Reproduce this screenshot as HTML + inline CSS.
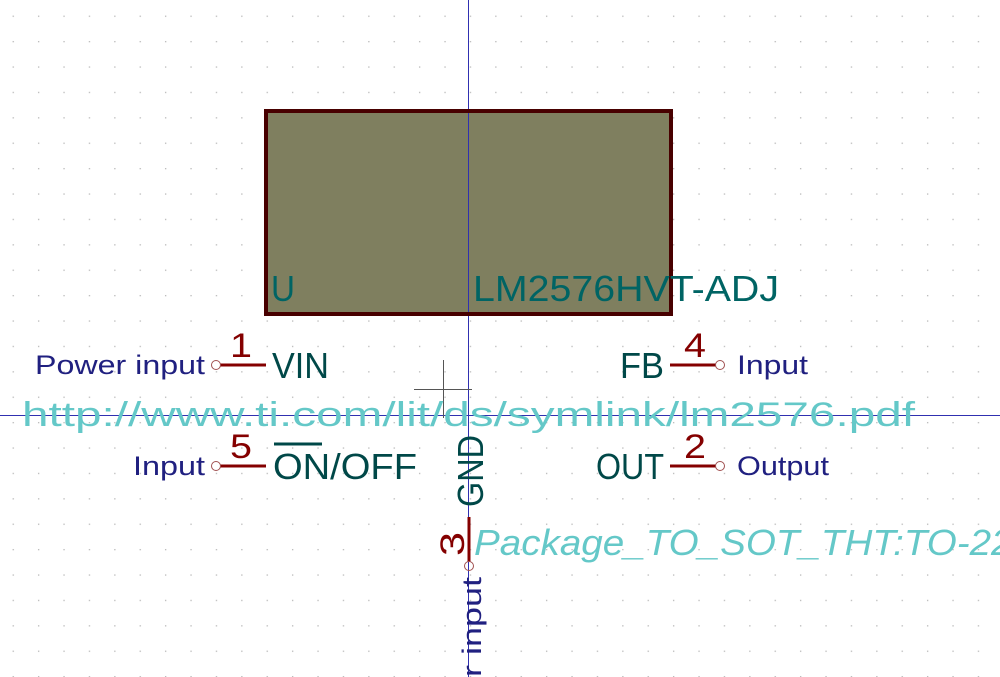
<!DOCTYPE html>
<html><head><meta charset="utf-8"><style>
html,body{margin:0;padding:0;background:#fff;}
svg{display:block;}
text{font-family:"Liberation Sans","DejaVu Sans",sans-serif;}
</style></head><body>
<svg width="1000" height="677" viewBox="0 0 1000 677" xmlns="http://www.w3.org/2000/svg">
<defs>
<pattern id="g" x="4.6" y="9.6" width="25.4" height="25.4" patternUnits="userSpaceOnUse">
<rect x="8" y="6" width="1.3" height="1.3" fill="#b8b8b8"/>
</pattern>
</defs>
<rect width="1000" height="677" fill="#fff"/>
<rect width="1000" height="677" fill="url(#g)"/>
<!-- axes -->
<line x1="468.5" y1="0" x2="468.5" y2="677" stroke="#3030b0" stroke-width="1"/>
<line x1="0" y1="415.5" x2="1000" y2="415.5" stroke="#3030b0" stroke-width="1"/>
<!-- box -->
<rect x="266" y="111" width="405" height="203" fill="#7f7f5f" stroke="#480000" stroke-width="4"/>
<line x1="468.5" y1="113" x2="468.5" y2="312" stroke="#3030b0" stroke-width="1"/>
<text x="271" y="301" font-size="36" fill="#006464" textLength="24" lengthAdjust="spacingAndGlyphs">U</text>
<text x="473" y="301" font-size="36" fill="#006464" textLength="306" lengthAdjust="spacingAndGlyphs">LM2576HVT-ADJ</text>
<!-- crosshair -->
<line x1="414" y1="389.5" x2="472" y2="389.5" stroke="#555" stroke-width="1"/>
<line x1="443.5" y1="360" x2="443.5" y2="418" stroke="#555" stroke-width="1"/>
<!-- pins -->
<g stroke="#840000" stroke-width="3">
<line x1="220" y1="365" x2="266" y2="365"/>
<line x1="220" y1="466" x2="266" y2="466"/>
<line x1="670" y1="365" x2="716" y2="365"/>
<line x1="670" y1="466" x2="716" y2="466"/>
<line x1="469" y1="517" x2="469" y2="562"/>
</g>
<g fill="none" stroke="#a05050" stroke-width="1">
<circle cx="216" cy="365" r="4.5"/>
<circle cx="216" cy="466" r="4.5"/>
<circle cx="720" cy="365" r="4.5"/>
<circle cx="720" cy="466" r="4.5"/>
<circle cx="469" cy="566" r="4.5"/>
</g>
<g fill="#840000" font-size="34">
<text x="230" y="357" textLength="22" lengthAdjust="spacingAndGlyphs">1</text>
<text x="230" y="458" textLength="22" lengthAdjust="spacingAndGlyphs">5</text>
<text x="684" y="357" textLength="22" lengthAdjust="spacingAndGlyphs">4</text>
<text x="684" y="458" textLength="22" lengthAdjust="spacingAndGlyphs">2</text>
<text transform="translate(464,556) rotate(-90)" textLength="24" lengthAdjust="spacingAndGlyphs">3</text>
</g>
<g fill="#004848" font-size="36">
<text x="272" y="378" textLength="57" lengthAdjust="spacingAndGlyphs">VIN</text>
<text x="273" y="479" textLength="144" lengthAdjust="spacingAndGlyphs">ON/OFF</text>
<text x="620" y="378" textLength="44" lengthAdjust="spacingAndGlyphs">FB</text>
<text x="596" y="479" textLength="68" lengthAdjust="spacingAndGlyphs">OUT</text>
<text transform="translate(483,507) rotate(-90)" textLength="72" lengthAdjust="spacingAndGlyphs">GND</text>
</g>
<line x1="274" y1="444" x2="322" y2="444" stroke="#004848" stroke-width="3"/>
<g fill="#202080" font-size="27">
<text x="35" y="374" textLength="170" lengthAdjust="spacingAndGlyphs">Power input</text>
<text x="133" y="475" textLength="72" lengthAdjust="spacingAndGlyphs">Input</text>
<text x="737" y="374" textLength="71" lengthAdjust="spacingAndGlyphs">Input</text>
<text x="737" y="475" textLength="92" lengthAdjust="spacingAndGlyphs">Output</text>
<text transform="translate(481,677) rotate(-90)" textLength="100" lengthAdjust="spacingAndGlyphs">r input</text>
</g>
<text x="22" y="426" font-size="34" fill="#64c8c8" textLength="893" lengthAdjust="spacingAndGlyphs">http://www.ti.com/lit/ds/symlink/lm2576.pdf</text>
<text x="474" y="555" font-size="36" font-style="italic" fill="#64c8c8" textLength="560" lengthAdjust="spacingAndGlyphs">Package_TO_SOT_THT:TO-220</text>
</svg>
</body></html>
